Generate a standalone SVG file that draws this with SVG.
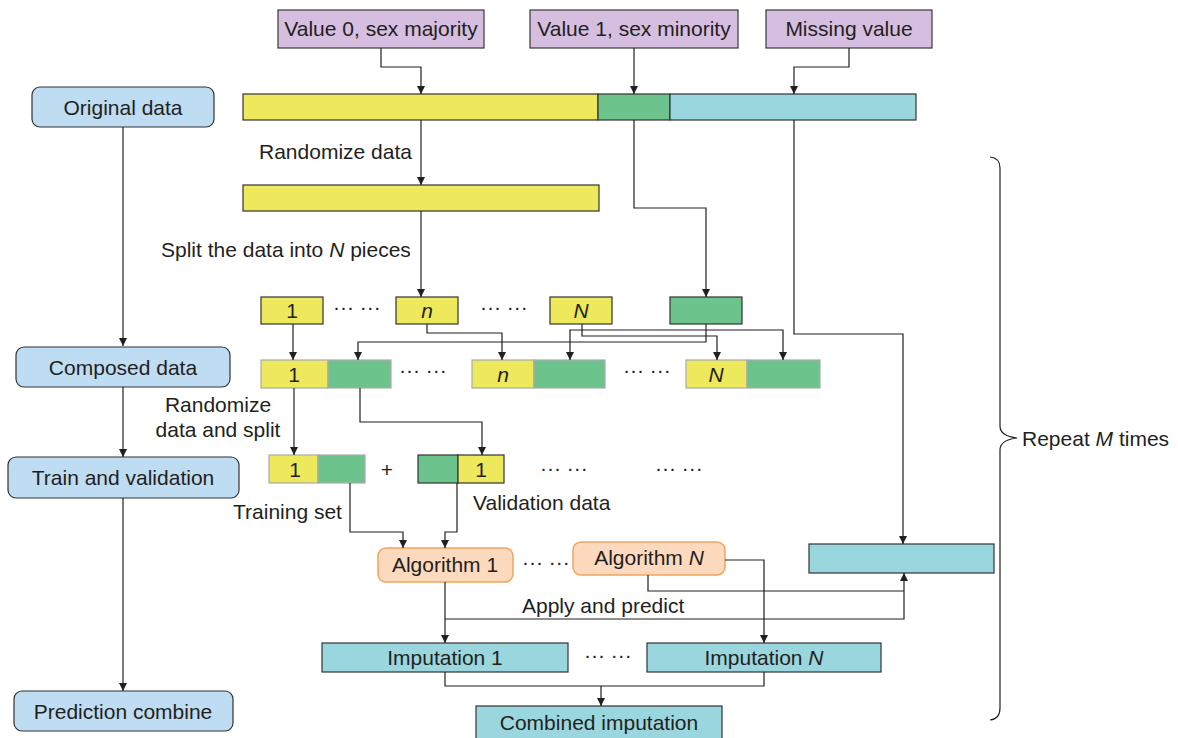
<svg xmlns="http://www.w3.org/2000/svg" width="1178" height="738" viewBox="0 0 1178 738">
<defs>
<marker id="ah" viewBox="0 0 10 10" refX="10" refY="5" markerWidth="11" markerHeight="8" orient="auto" markerUnits="userSpaceOnUse"><path d="M0,0 L10,5 L0,10 z" fill="#231F20"/></marker>
</defs>
<style>
text{font-family:"Liberation Sans",Arial,sans-serif;font-size:21px;fill:#231F20}
.c{text-anchor:middle}
.pu{fill:#D5BEDF;stroke:#3a3a3a;stroke-width:1.2}
.bl{fill:#BEDCF2;stroke:#333;stroke-width:1.2}
.ye{fill:#EDE85C;stroke:#333;stroke-width:1.2}
.gr{fill:#6DC38C;stroke:#333;stroke-width:1.2}
.cy{fill:#9AD6DE;stroke:#333;stroke-width:1.2}
.or{fill:#FDD9BE;stroke:#F0A460;stroke-width:1.5}
.cn path{fill:none;stroke:#231F20;stroke-width:1.2}
.ar{marker-end:url(#ah)}
</style>
<rect width="1178" height="738" fill="#fff"/>

<g id="v0"><rect class="pu" x="278" y="10" width="206" height="38"/><text class="c" x="381" y="36">Value 0, sex majority</text></g>
<g id="v1"><rect class="pu" x="530" y="10" width="208" height="38"/><text class="c" x="634" y="36">Value 1, sex minority</text></g>
<g id="mv"><rect class="pu" x="766" y="10" width="166" height="38"/><text class="c" x="849" y="36">Missing value</text></g>

<g id="original"><rect class="bl" x="32" y="87" width="182" height="40" rx="8"/><text class="c" x="123" y="115">Original data</text></g>
<g id="composed"><rect class="bl" x="16" y="347" width="214" height="40" rx="8"/><text class="c" x="123" y="375">Composed data</text></g>
<g id="trainval"><rect class="bl" x="8" y="457" width="231" height="41" rx="8"/><text class="c" x="123" y="485">Train and validation</text></g>
<g id="predcomb"><rect class="bl" x="14" y="691" width="219" height="40" rx="8"/><text class="c" x="123" y="719">Prediction combine</text></g>

<g id="origbar"><rect class="ye" x="243" y="94" width="355" height="26"/><rect class="gr" x="598" y="94" width="72" height="26"/><rect class="cy" x="670" y="94" width="246" height="26"/></g>
<g id="randbar"><rect class="ye" x="243" y="185" width="356" height="26"/></g>

<g id="p1"><rect class="ye" x="261" y="297" width="62" height="27"/><text class="c" x="292" y="318">1</text></g>
<g id="pn"><rect class="ye" x="396" y="297" width="62" height="27"/><text class="c" x="427" y="318" font-style="italic">n</text></g>
<g id="pN"><rect class="ye" x="550" y="297" width="62" height="27"/><text class="c" x="581" y="318" font-style="italic">N</text></g>
<g id="pg"><rect class="gr" x="670" y="297" width="72" height="27"/></g>

<g id="c1"><rect class="ye" x="261" y="360" width="67" height="28" style="stroke:#aaa"/><rect class="gr" x="328" y="360" width="63" height="28" style="stroke:#aaa"/><text class="c" x="294" y="382">1</text></g>
<g id="cn"><rect class="ye" x="472" y="360" width="62" height="28" style="stroke:#aaa"/><rect class="gr" x="534" y="360" width="71" height="28" style="stroke:#aaa"/><text class="c" x="503" y="382" font-style="italic">n</text></g>
<g id="cN"><rect class="ye" x="686" y="360" width="61" height="28" style="stroke:#aaa"/><rect class="gr" x="747" y="360" width="73" height="28" style="stroke:#aaa"/><text class="c" x="716" y="382" font-style="italic">N</text></g>

<g id="train"><rect class="ye" x="269" y="455" width="49" height="28" style="stroke:#aaa"/><rect class="gr" x="318" y="455" width="47" height="28" style="stroke:#aaa"/><text class="c" x="295" y="477">1</text></g>
<g id="valid"><rect class="gr" x="418" y="455" width="40" height="28"/><rect class="ye" x="458" y="455" width="46" height="28"/><text class="c" x="481" y="477">1</text></g>

<g id="alg1"><rect class="or" x="378" y="548" width="135" height="34" rx="8"/><text class="c" x="445" y="572">Algorithm 1</text></g>
<g id="algN"><rect class="or" x="573" y="542" width="152" height="33" rx="8"/><text class="c" x="649" y="565">Algorithm <tspan font-style="italic">N</tspan></text></g>
<g id="cyanbox"><rect class="cy" x="809" y="544" width="185" height="29"/></g>
<g id="imp1"><rect class="cy" x="322" y="643" width="246" height="29"/><text class="c" x="445" y="665">Imputation 1</text></g>
<g id="impN"><rect class="cy" x="647" y="643" width="234" height="29"/><text class="c" x="764" y="665">Imputation <tspan font-style="italic">N</tspan></text></g>
<g id="combined"><rect class="cy" x="476" y="706" width="246" height="34"/><text class="c" x="599" y="730">Combined imputation</text></g>

<g id="labels">
<text x="259" y="159">Randomize data</text>
<text x="161" y="257">Split the data into <tspan font-style="italic">N</tspan> pieces</text>
<text class="c" x="218" y="412">Randomize</text>
<text class="c" x="218" y="437">data and split</text>
<text x="233" y="519">Training set</text>
<text x="473" y="510">Validation data</text>
<text x="522" y="613">Apply and predict</text>
<text x="1022" y="446">Repeat <tspan font-style="italic">M</tspan> times</text>
<text x="333" y="314">··· ···</text>
<text x="480" y="314">··· ···</text>
<text x="399" y="377">··· ···</text>
<text x="623" y="377">··· ···</text>
<text class="c" x="387" y="477">+</text>
<text x="540" y="475">··· ···</text>
<text x="655" y="475">··· ···</text>
<text x="522" y="569">··· ···</text>
<text x="584" y="662">··· ···</text>
</g>

<g id="connectors" class="cn">
<path class="ar" d="M123,127 V346"/>
<path class="ar" d="M123,387 V457"/>
<path class="ar" d="M123,498 V691"/>
<path class="ar" d="M381,48 V67 H421 V94"/>
<path class="ar" d="M634,48 V94"/>
<path class="ar" d="M849,48 V67 H794 V94"/>
<path class="ar" d="M421,120 V185"/>
<path class="ar" d="M634,120 V208 H706 V297"/>
<path class="ar" d="M794,120 V334 H903 V544"/>
<path class="ar" d="M421,211 V297"/>
<path class="ar" d="M293,324 V360"/>
<path class="ar" d="M427,324 V333 H502 V360"/>
<path class="ar" d="M582,324 V336 H717 V360"/>
<path class="ar" d="M706,324 V342 H358 V360"/>
<path class="ar" d="M706,330 H570 V360"/>
<path class="ar" d="M706,330 H783 V360"/>
<path class="ar" d="M294,388 V455"/>
<path class="ar" d="M360,388 V422 H482 V455"/>
<path class="ar" d="M350,483 V532 H403 V548"/>
<path class="ar" d="M457,483 V532 H445 V548"/>
<path class="ar" d="M445,582 V643"/>
<path class="ar" d="M445,619 H904 V573"/>
<path d="M648,575 V591 H904"/>
<path class="ar" d="M725,560 H764 V643"/>
<path d="M445,672 V686 H764 V672"/>
<path class="ar" d="M601,686 V706"/>
<path d="M990,157 Q1000,158 1000,168 V426 Q1000,436 1017,438 Q1000,440 1000,450 V708 Q1000,719 990,720"/>
</g>
</svg>
